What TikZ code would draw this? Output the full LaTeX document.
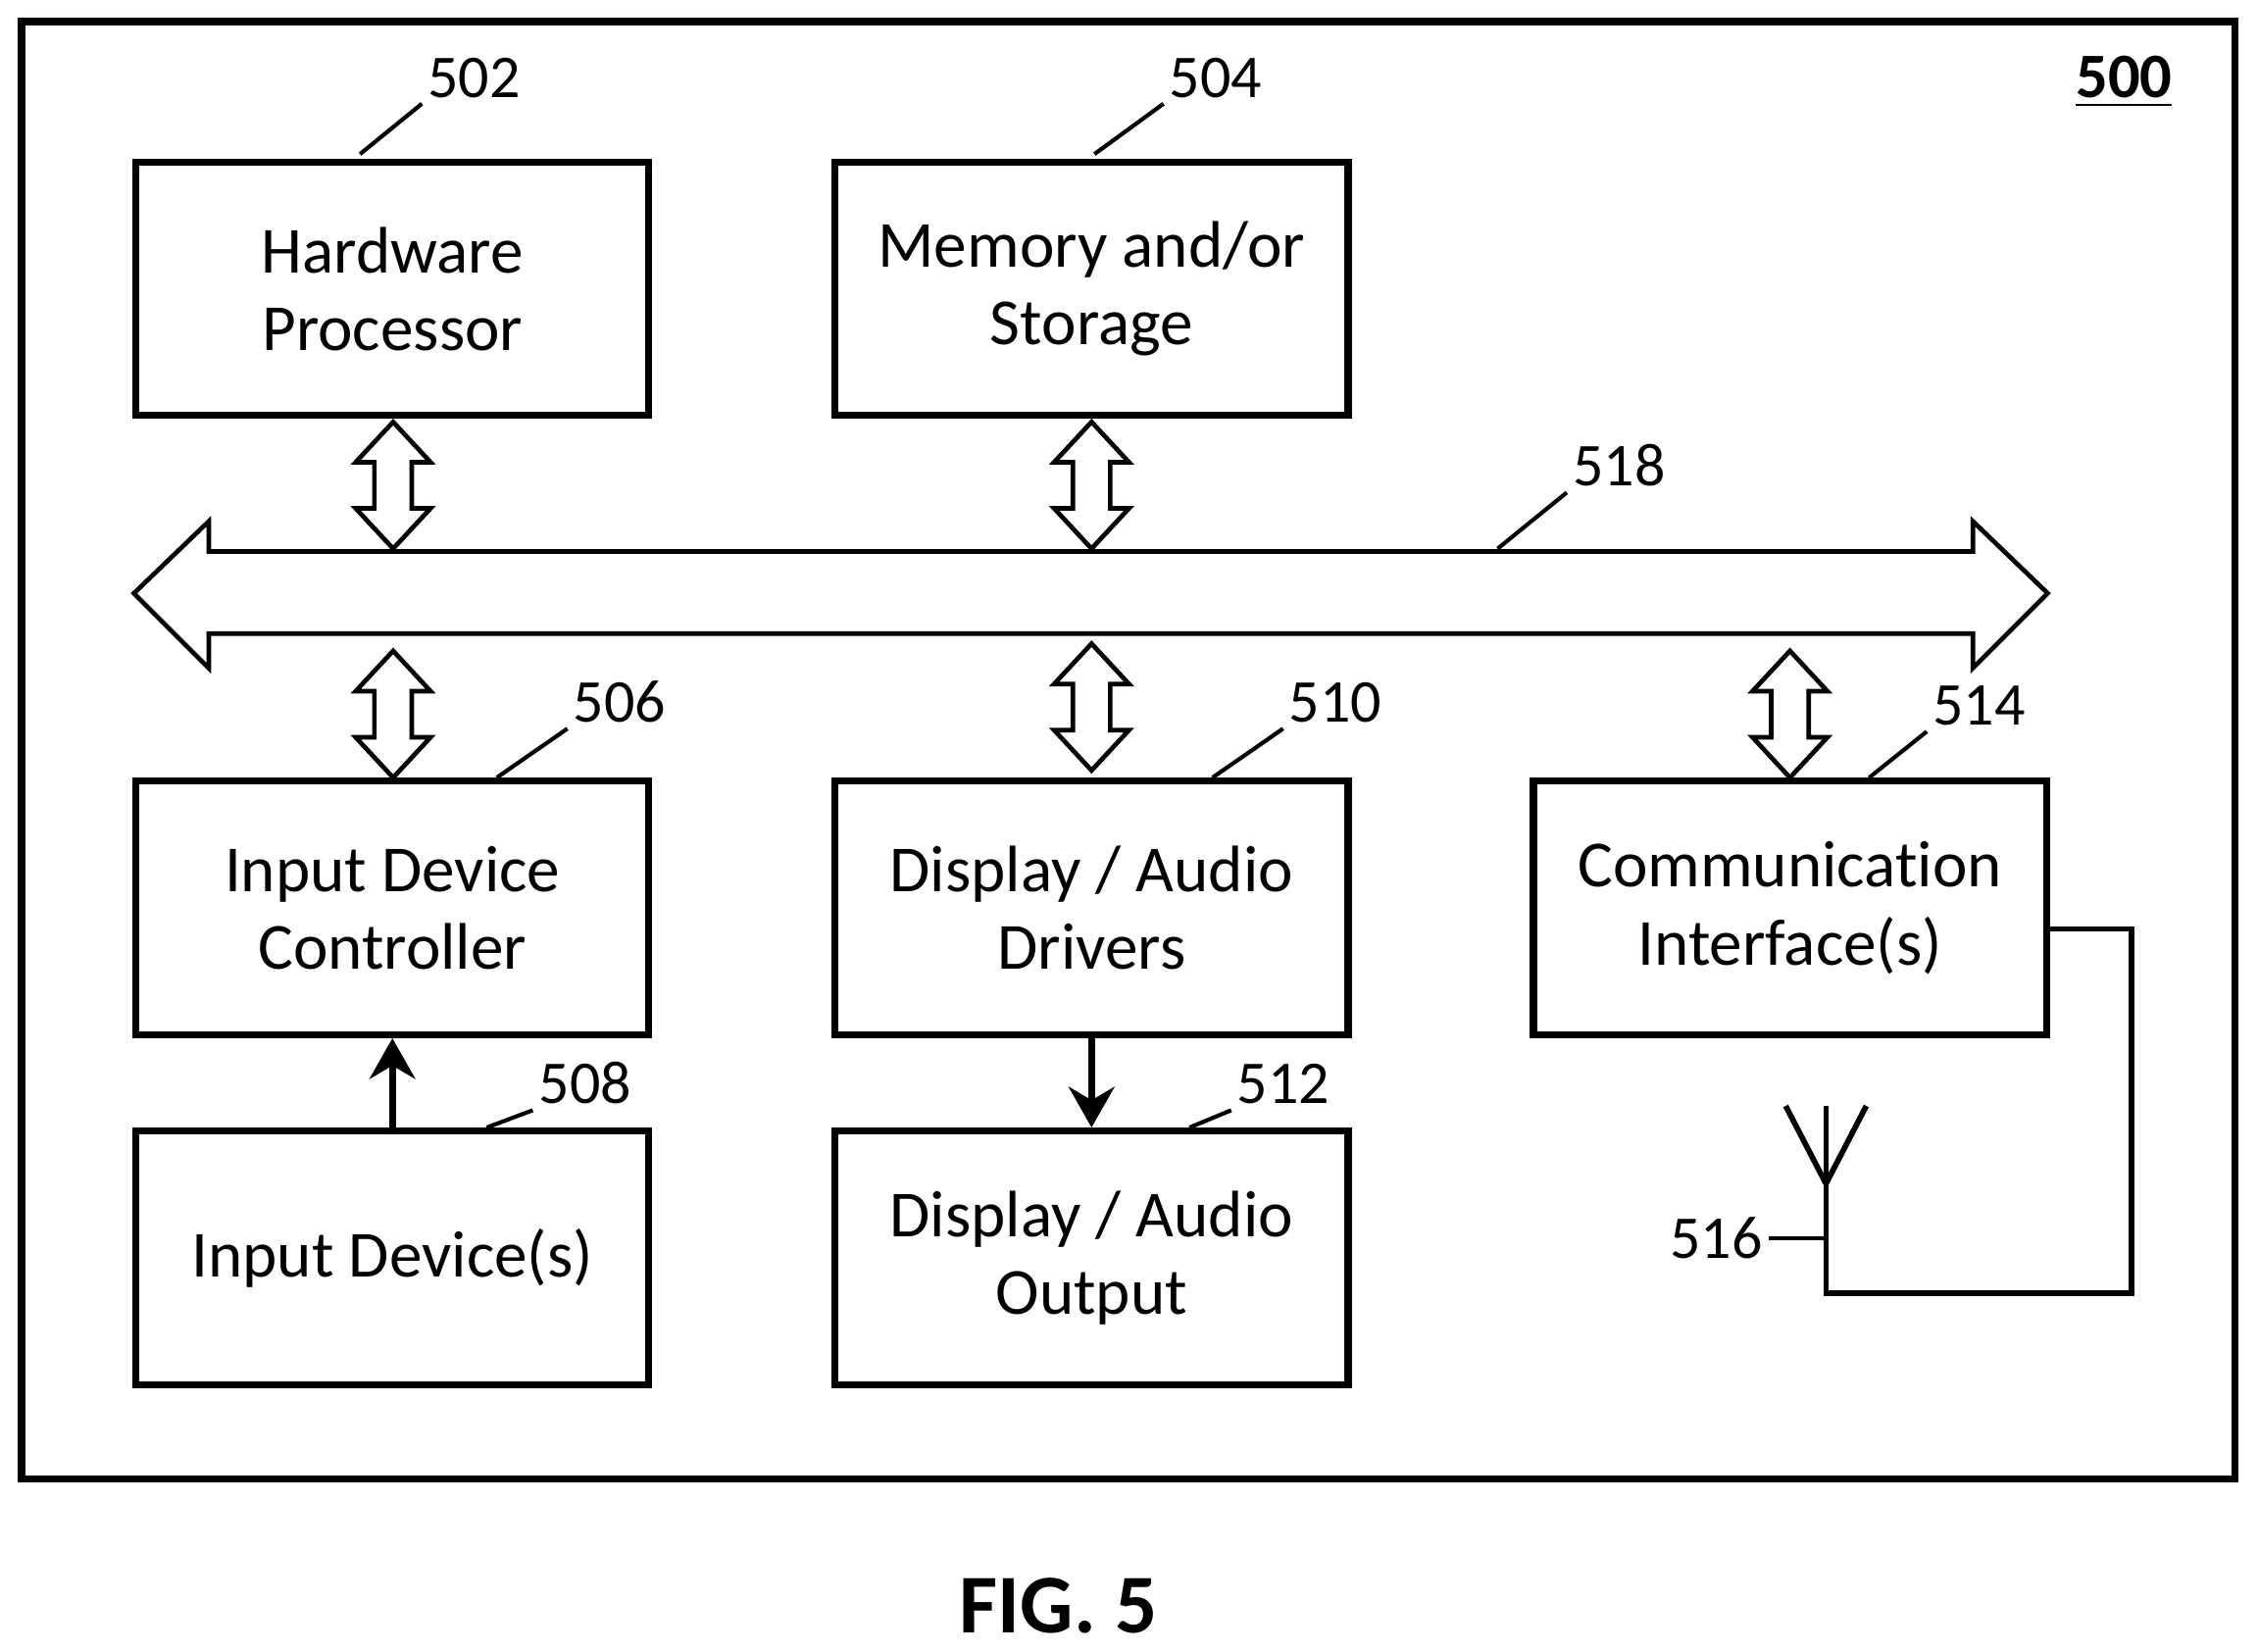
\documentclass[tikz,border=0pt]{standalone}
\usepackage{fontspec}
\setmainfont{Carlito}[Ligatures={NoCommon}]
\usetikzlibrary{arrows.meta}
\begin{document}
\begin{tikzpicture}[x=0.01cm,y=-0.01cm,
  box/.style={draw,line width=1.4pt,minimum width=3.56cm,minimum height=1.76cm,align=center,font=\fontsize{13}{15.3}\selectfont,inner sep=0pt},
  lbl/.style={font=\fontsize{12}{14}\selectfont,inner sep=1pt},
  lead/.style={line width=0.8pt},
  arr/.style={line width=0.9pt,fill=white,line join=miter}]
\useasboundingbox (0,0) rectangle (1568,1147);
\draw[line width=1.5pt] (15,15) rectangle (1552,1027);
\node[box] (hp) at (272.5,200.5) {Hardware\\Processor};
\node[box] (mem) at (758,200.5) {Memory and/or\\Storage};
\node[box] (idc) at (272.5,630.5) {Input Device\\Controller};
\node[box] (dad) at (758,630.5) {Display / Audio\\Drivers};
\node[box] (ci) at (1243,630.5) {Communication\\Interface(s)};
\node[box] (id) at (272.5,873.5) {Input Device(s)};
\node[box] (dao) at (758,873.5) {Display / Audio\\Output};
% bus
\draw[arr] (93,412) -- (145,362) -- (145,383) -- (1370,383) -- (1370,362) -- (1422,412) -- (1370,464) -- (1370,440) -- (145,440) -- (145,464) -- cycle;
\newcommand\vdbl[3]{\draw[arr] (#1,#2) -- (#1+26,#2+28) -- (#1+13,#2+28) -- (#1+13,#3-28) -- (#1+26,#3-28) -- (#1,#3) -- (#1-26,#3-28) -- (#1-13,#3-28) -- (#1-13,#2+28) -- (#1-26,#2+28) -- cycle;}
\vdbl{273}{293}{381}
\vdbl{758}{293}{381}
\vdbl{273}{452}{540}
\vdbl{758}{447}{535}
\vdbl{1243}{452}{540}
\draw[line width=1.4pt,-{Stealth[length=8pt,width=9pt]}] (id.north) -- (idc.south);
\draw[line width=1.4pt,-{Stealth[length=8pt,width=9pt]}] (dad.south) -- (dao.north);
% antenna
\coordinate (ant) at (1268,822);
\draw[line width=1.1pt] (ci.east |- 0,645) -- (1480,645) -- (1480,898) -- (1268,898) -- (ant) -- (1268,768);
\draw[line width=1.1pt] (1240,768) -- (ant) -- (1296,768);
\node[lbl,anchor=east] (l516) at (1228,860) {516};
\draw[lead] (l516.east) -- (1268,860);
% labels
\node[lbl,anchor=south west] (l502) at (293,72) {502};
\draw[lead] (250,107) -- (l502.south west);
\node[lbl,anchor=south west] (l504) at (808,72) {504};
\draw[lead] (760,107) -- (l504.south west);
\node[lbl,anchor=south west] (l518) at (1088,342) {518};
\draw[lead] (1040,381) -- (l518.south west);
\node[lbl,anchor=south west] (l506) at (394,506) {506};
\draw[lead] (345,540) -- (l506.south west);
\node[lbl,anchor=south west] (l510) at (891,506) {510};
\draw[lead] (842,540) -- (l510.south west);
\node[lbl,anchor=south west] (l514) at (1338,508) {514};
\draw[lead] (1298,540) -- (l514.south west);
\node[lbl,anchor=south west] (l508) at (370,771) {508};
\draw[lead] (338,783) -- (l508.south west);
\node[lbl,anchor=south west] (l512) at (855,771) {512};
\draw[lead] (826,783) -- (l512.south west);
\node[font=\fontsize{12.5}{14}\selectfont\bfseries] (l500) at (1475,57) {\underline{500}};
\node[font=\fontsize{16.5}{20}\selectfont\bfseries] (fig) at (735,1115) {FIG. 5};
\end{tikzpicture}
\end{document}
